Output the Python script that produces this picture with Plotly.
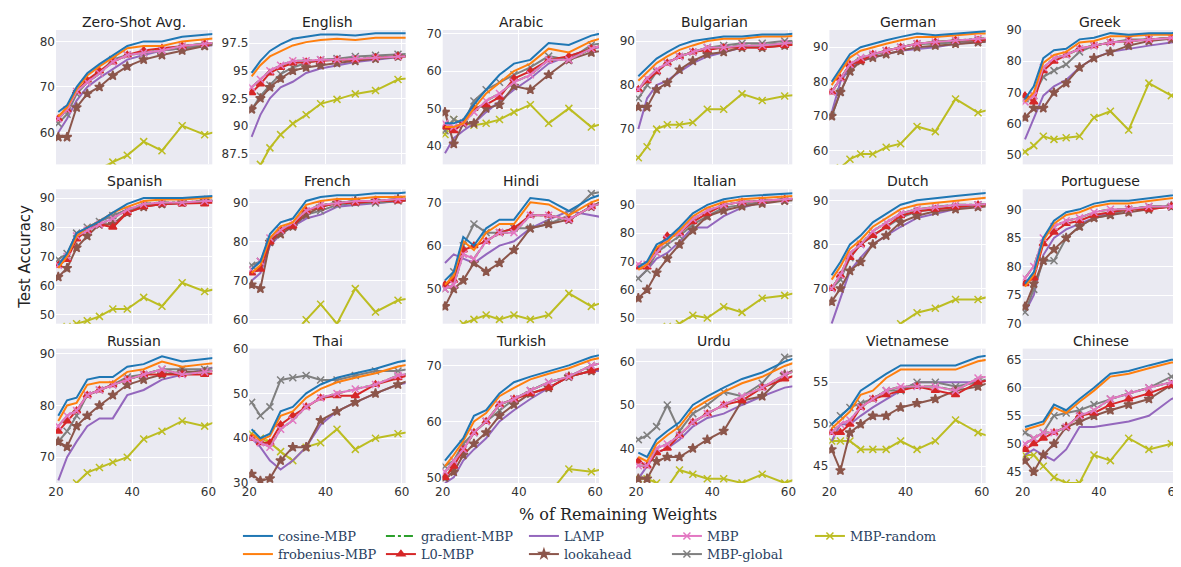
import plotly.graph_objects as go
from plotly.subplots import make_subplots

# % of remaining weights (pruned by 10% each step)
x = [20.6, 22.9, 25.4, 28.2, 31.4, 34.9, 38.7, 43.0, 47.8, 53.1, 59.0, 65.6]

zero_shot = {
    "cosine-MBP": [64.5, 66, 70, 73, 75, 77, 79, 80, 80, 81, 81.5, 82],
    "frobenius-MBP": [63.5, 65.5, 69.5, 72.5, 74.5, 76.5, 78.5, 79, 79, 80, 80.5, 81],
    "L0-MBP": [63, 65, 69, 71.5, 73.5, 75.5, 77, 78, 78.5, 79, 79.5, 80],
    "LAMP": [60, 63, 67, 70, 72, 74, 76, 77, 78, 78.5, 79, 79.5],
    "lookahead": [59, 59, 65.5, 68.5, 70, 72.5, 74.5, 76, 77, 78, 79, 80],
    "MBP": [63, 65, 69, 71, 73, 75.5, 77, 77.5, 78, 79, 79.5, 80],
    "MBP-global": [62, 64, 68.5, 71, 73, 76, 77, 77.5, 78, 78.5, 79, 80],
    "MBP-random": [45, 47, 49, 51, 52, 53.5, 55, 58, 56, 61.5, 59.5, 61],
}
english = {
    "cosine-MBP": [94.8, 95.9, 96.8, 97.4, 97.9, 98.1, 98.3, 98.3, 98.2, 98.4, 98.4, 98.4],
    "frobenius-MBP": [94.5, 95.5, 96.3, 96.8, 97.3, 97.6, 97.8, 97.9, 97.8, 98, 98, 98],
    "L0-MBP": [93, 93.8, 94.8, 95.3, 95.7, 95.8, 95.9, 96, 96, 96.2, 96.3, 96.3],
    "LAMP": [89, 91, 92.5, 93.5, 94, 94.8, 95.2, 95.5, 95.8, 96, 96.3, 96.5],
    "lookahead": [91.5, 92.5, 93.5, 94.3, 95, 95.3, 95.5, 95.7, 95.9, 96.1, 96.3, 96.5],
    "MBP": [93.5, 94.2, 95, 95.5, 95.9, 95.9, 96, 96, 96.1, 96.2, 96.3, 96.4],
    "MBP-global": [91.5, 92.7, 93.7, 94.7, 95.3, 95.7, 96, 96.1, 96.3, 96.4, 96.5, 96.6],
    "MBP-random": [85, 86.5, 88, 89.2, 90.2, 91, 92, 92.4, 92.9, 93.2, 94.2, 94.5],
}
arabic = {
    "cosine-MBP": [46, 46, 47, 51, 55, 59, 62, 63, 67.5, 67, 69.5, 71],
    "frobenius-MBP": [45, 45, 46, 50, 54, 57, 60, 62, 66, 65, 68, 70],
    "L0-MBP": [45, 44, 46, 50, 51, 53, 58, 60, 63, 64, 66, 68],
    "LAMP": [38, 42, 44, 46, 49, 52, 55, 58, 62, 64, 66, 67],
    "lookahead": [49, 40.5, 46, 46, 50, 51, 56, 55, 59, 63, 65, 66],
    "MBP": [46, 45, 46, 49, 52, 54, 57, 59, 63, 63, 66, 68],
    "MBP-global": [44, 47, 46, 52, 55, 57, 59, 61, 64, 63, 67, 68],
    "MBP-random": [43, 47, 46, 45.5, 46, 47, 49, 51, 46, 50, 45, 47],
}
bulgarian = {
    "cosine-MBP": [82, 84, 86, 87.5, 89, 90, 90.5, 91, 91, 91.5, 91.5, 92],
    "frobenius-MBP": [81, 83, 85, 86.5, 88, 89, 90, 90.5, 90.5, 91, 91, 91.5],
    "L0-MBP": [79, 81, 83, 85, 86.5, 87.5, 88, 88.5, 88.5, 88.5, 89, 89.5],
    "LAMP": [70, 77, 80, 81, 83, 85, 86.5, 87.5, 88.5, 89, 89.5, 90],
    "lookahead": [75, 75, 79, 80.5, 83.5, 85.5, 87, 87.5, 88.5, 88.5, 89, 89.5],
    "MBP": [79, 81.5, 83.5, 85, 86.5, 87.5, 88.5, 88.5, 89, 89, 89.5, 90],
    "MBP-global": [77, 80, 83, 85, 86.5, 87.5, 88.5, 89, 89.5, 89.5, 90, 90],
    "MBP-random": [63.5, 66, 70, 71, 71, 71.5, 74.5, 74.5, 78, 76.5, 77.5, 78],
}
german = {
    "cosine-MBP": [80, 84, 88, 90, 91, 92, 93, 94, 93.5, 94, 94.5, 95],
    "frobenius-MBP": [79, 83, 87, 89, 90, 91, 92, 93, 93, 93.5, 94, 94],
    "L0-MBP": [77, 81, 85, 86, 88, 89, 90, 91, 91.5, 92, 92, 92.5],
    "LAMP": [71, 80, 84, 86, 87, 88, 89, 89.5, 90, 91, 91.5, 92],
    "lookahead": [70, 77, 83, 86, 87, 88, 89, 90, 90.5, 91, 91.5, 92],
    "MBP": [77, 81, 85, 87, 88, 89, 90, 91, 91.5, 92, 92.5, 93],
    "MBP-global": [70, 77, 83, 86, 87.5, 89, 90, 91, 91, 91.5, 92, 92.5],
    "MBP-random": [52, 55, 57.5, 59, 59, 61, 62, 67, 65.5, 75, 71, 73],
}
greek = {
    "cosine-MBP": [68, 72, 81, 83.5, 84, 87, 87.5, 89, 88.5, 89, 89, 89.5],
    "frobenius-MBP": [67, 70, 79.5, 82, 83, 86, 86.5, 88, 88, 88.5, 88.5, 89],
    "L0-MBP": [69, 67, 77, 80, 82, 84, 85, 86, 86.5, 87, 87.5, 88],
    "LAMP": [55, 62, 69, 72, 74, 78, 81, 83, 84, 85, 86, 87],
    "lookahead": [62, 65, 65, 70, 73, 78, 81, 83, 85, 86.5, 87, 88],
    "MBP": [67, 69, 78, 81, 82, 84, 85, 86, 86.5, 87, 87.5, 88],
    "MBP-global": [68, 69, 75, 77, 79, 83, 85, 86, 87, 87, 87.5, 88],
    "MBP-random": [51, 53, 56, 55, 55.5, 56, 62, 64, 58, 73, 69, 72],
}
spanish = {
    "cosine-MBP": [67, 71, 78, 80, 82, 85, 88, 90, 90, 90, 90.5, 91],
    "frobenius-MBP": [66, 70, 77, 80, 82, 85, 87, 89, 89.5, 89.5, 90, 90.5],
    "L0-MBP": [67, 69, 76, 79, 81, 80, 85, 87, 88, 88, 88, 88.5],
    "LAMP": [68, 70, 77, 79, 82, 84, 86, 87.5, 88, 88.5, 89, 89.5],
    "lookahead": [63, 66, 73, 77, 81, 81, 85, 87, 88, 88.5, 89, 89.5],
    "MBP": [67, 70, 77, 79, 81, 83, 86, 88, 88.5, 88.5, 89, 89],
    "MBP-global": [69, 71, 78, 80, 82, 84, 86, 87.5, 88, 88.5, 89, 89.5],
    "MBP-random": [45, 46, 47, 48, 49.5, 52, 52, 56, 53, 61, 58, 60],
}
french = {
    "cosine-MBP": [73, 75, 82, 85, 86, 90.5, 91.5, 92, 92, 92.5, 92.5, 93],
    "frobenius-MBP": [72, 74, 81, 84, 85, 89.5, 90.5, 91, 91, 91.5, 91.5, 92],
    "L0-MBP": [72, 73, 80, 83, 84, 88, 89, 90, 90, 90.5, 90.5, 91],
    "LAMP": [70, 72, 79, 82, 84, 86, 87, 89, 89.5, 90, 90.5, 91],
    "lookahead": [69, 68, 80, 82, 84, 87, 89, 90, 90.5, 90.5, 91, 91.5],
    "MBP": [73, 75, 81, 83, 85, 88, 89.5, 90, 90.5, 90.5, 91, 91],
    "MBP-global": [74, 75, 80, 83, 84, 87, 88, 89.5, 90, 90, 90.5, 91],
    "MBP-random": [50, 51, 52, 54, 56, 60, 64, 59, 68, 62, 65, 66],
}
hindi = {
    "cosine-MBP": [52, 54, 62, 60, 64, 66, 66, 71, 70.5, 68, 71, 73],
    "frobenius-MBP": [51, 53, 61, 59, 63, 65, 65, 70, 69.5, 67, 70, 72],
    "L0-MBP": [51, 52, 59, 60, 61, 63, 64, 67, 67, 66, 69, 71],
    "LAMP": [56, 58, 57, 56, 58, 60, 61, 64, 66, 68, 67, 66],
    "lookahead": [46, 50, 52, 56, 54, 56, 59, 64, 65, 66, 69, 72],
    "MBP": [50, 51, 58, 57, 61, 63, 63, 67, 67, 66, 69, 71],
    "MBP-global": [50, 54, 60, 65, 63, 63, 64, 64, 65, 67, 72, 73],
    "MBP-random": [40, 41, 42, 43, 44, 43, 44, 43, 44, 49, 46, 48],
}
italian = {
    "cosine-MBP": [68, 70, 76, 78, 82, 87, 90, 92, 93, 93.5, 94, 94.5],
    "frobenius-MBP": [67, 69, 75, 77, 81, 86, 89, 91, 92, 92.5, 93, 93.5],
    "L0-MBP": [68, 68, 74, 79, 80, 84, 87, 90, 91, 91.5, 92, 92.5],
    "LAMP": [64, 67, 71, 73, 77, 82, 82, 86, 89, 91, 92, 92.5],
    "lookahead": [57, 60, 66, 71, 76, 81, 86, 88, 89.5, 90.5, 91.5, 92],
    "MBP": [69, 69, 73, 78, 80, 85, 88, 90, 91, 91.5, 92, 92.5],
    "MBP-global": [64, 67, 73, 76, 79, 83, 86, 89, 90, 91, 91.5, 92],
    "MBP-random": [44, 45, 46, 47, 48, 51, 50, 54, 52, 57, 58, 60],
}
dutch = {
    "cosine-MBP": [73, 76, 80, 82, 85, 87, 89, 90, 90.5, 91, 91.5, 92],
    "frobenius-MBP": [72, 75, 79, 81, 84, 86, 88, 89, 89.5, 90, 90.5, 91],
    "L0-MBP": [70, 73, 77, 80, 82, 84, 86.5, 87.5, 88, 88.5, 89, 89],
    "LAMP": [62, 68, 74, 77, 80, 82, 84, 86, 87, 88, 89, 89.5],
    "lookahead": [67, 70, 74, 76, 80, 82, 85, 86.5, 87.5, 88, 88.5, 89],
    "MBP": [70, 73, 78, 80, 83, 85, 87, 88, 88.5, 89, 89, 89.5],
    "MBP-global": [70, 72, 77, 80, 82, 84, 86, 87.5, 88, 88.5, 89, 89.5],
    "MBP-random": [55, 56, 57, 58, 59, 60, 62, 64.5, 65.5, 67.5, 67.5, 69],
}
portuguese = {
    "cosine-MBP": [77, 79, 85, 88, 89.5, 90, 91, 91.5, 91.5, 92, 92.5, 93],
    "frobenius-MBP": [76.5, 78.5, 84.5, 87.5, 89, 89.5, 90.5, 91, 91, 91.5, 92, 92.5],
    "L0-MBP": [77, 78, 84, 86, 87.5, 88, 89, 89.5, 90, 90, 90.5, 90.5],
    "LAMP": [72, 75, 82, 85, 86.5, 87.5, 88.5, 89.5, 90, 90.5, 90.5, 91],
    "lookahead": [73, 77, 81, 83, 85, 87, 88.5, 89, 89.5, 90, 90.5, 91],
    "MBP": [78, 80, 85, 87, 88, 88.5, 89.5, 90, 90, 90.5, 90.5, 91],
    "MBP-global": [72, 76, 81, 81, 85, 87, 88.5, 89, 90, 90.5, 90.5, 91],
    "MBP-random": [65, 66, 67, 67, 68, 68, 68, 68, 68, 68, 68, 68],
}
russian = {
    "cosine-MBP": [78, 81, 81.5, 85, 85.5, 85.5, 87.5, 88, 89.5, 88.5, 89, 89.5],
    "frobenius-MBP": [77, 80, 80.5, 84, 84.5, 84.5, 86.5, 87, 88.5, 87.5, 88, 88.5],
    "L0-MBP": [75, 77, 79, 82, 83, 84, 85, 86, 86, 86, 86, 86.5],
    "LAMP": [65.5, 70, 73, 76, 77.5, 77.5, 82, 83, 85, 86, 87, 88],
    "lookahead": [73, 72, 76, 78, 80, 82, 84, 85, 86, 86.5, 86.5, 87],
    "MBP": [76, 78, 79, 82, 83, 84, 85, 86, 87, 86, 86.5, 87],
    "MBP-global": [73, 75, 78, 82, 83, 84, 85.5, 86, 87, 87, 87, 87.5],
    "MBP-random": [61, 63, 65, 67, 68, 69, 70, 73.5, 75, 77, 76, 78],
}
thai = {
    "cosine-MBP": [42, 40, 41, 46, 47, 50, 52, 53.5, 54.5, 55.5, 57, 58],
    "frobenius-MBP": [41, 39.5, 40.5, 45, 46, 49, 51, 52.5, 53.5, 54.5, 56, 57],
    "L0-MBP": [40, 39, 39, 43, 45, 47, 49, 49.5, 49.5, 52, 53.5, 55],
    "LAMP": [40, 38, 35, 33, 35, 38, 43, 46, 48, 50, 52, 53],
    "lookahead": [32, 30.5, 31, 35, 38, 38, 44, 46, 48, 50, 52, 54],
    "MBP": [40, 39, 38, 42, 44, 47, 49, 50, 51, 52, 54, 55],
    "MBP-global": [48, 45, 47, 53, 53.5, 54, 53, 53, 54, 55, 55, 56],
    "MBP-random": [41, 40, 39, 37, 35, 38, 39, 42, 37.5, 40, 41, 42],
}
turkish = {
    "cosine-MBP": [53, 55, 57, 61, 62, 65, 67, 68, 69, 70, 71.5, 72.5],
    "frobenius-MBP": [52, 54, 56.5, 60, 61.5, 64.5, 66, 67.5, 68.5, 69.5, 71, 72],
    "L0-MBP": [50, 52, 55, 58, 60, 63, 64, 65, 66, 68, 69, 70.5],
    "LAMP": [49, 50, 53, 55, 57, 60, 62, 64, 66, 68, 69, 69],
    "lookahead": [50, 51, 54, 56, 58, 61, 63, 65, 66, 68, 69, 70],
    "MBP": [51, 53, 55, 58, 60, 63, 64, 65.5, 67, 68, 70, 71],
    "MBP-global": [52, 53, 56, 58, 60, 62, 64, 65.5, 67, 68, 70, 71],
    "MBP-random": [43, 44, 44, 45, 45, 45, 46, 46, 47, 51.5, 51, 52],
}
urdu = {
    "cosine-MBP": [39, 38, 42, 44, 46, 50, 52, 54, 56, 57.5, 60, 62],
    "frobenius-MBP": [38, 37, 41, 43, 45, 49, 51, 53, 55, 56.5, 59, 61],
    "L0-MBP": [37, 36, 39, 40, 43, 46, 48, 50, 51, 54, 56, 58],
    "LAMP": [33, 36, 39, 40, 42, 45, 47, 48, 50, 52, 54, 55],
    "lookahead": [33, 33, 37, 38, 38, 40, 42, 44, 51, 52, 57, 60],
    "MBP": [36, 36, 40, 41, 43, 46, 48, 50, 52, 54, 57, 59],
    "MBP-global": [42, 43, 45, 50, 44, 48, 50, 53, 52, 55, 61, 62],
    "MBP-random": [33, 33, 32, 31, 35, 34, 33, 33, 32, 34, 32, 34],
}
vietnamese = {
    "cosine-MBP": [50, 51, 52, 54, 55, 56, 57, 57, 57, 57, 58, 58.5],
    "frobenius-MBP": [49.5, 50.5, 51.5, 53.5, 54, 55.5, 56.5, 56.5, 56.5, 56.5, 57.5, 58],
    "L0-MBP": [49, 49, 50, 52, 53, 53.5, 54, 54.5, 54, 53.5, 55, 55.5],
    "LAMP": [48, 50, 50, 51, 52, 53, 54, 55, 55, 55, 55, 55.5],
    "lookahead": [47, 44.5, 49, 50, 51, 51, 52, 52.5, 53, 54, 54.5, 55.5],
    "MBP": [49, 50, 50.5, 52, 53, 54, 54.5, 54.5, 54.5, 54, 55.5, 56],
    "MBP-global": [50, 51, 52, 52.5, 53, 54, 54, 55, 55, 54.5, 55, 56],
    "MBP-random": [48, 48, 48, 47, 47, 47, 48, 47, 48, 50.5, 49, 48],
}
chinese = {
    "cosine-MBP": [53, 53.5, 54, 57, 56, 58, 60, 62.5, 63, 64, 65, 65.5],
    "frobenius-MBP": [52.5, 53, 53.5, 56.5, 55.5, 57.5, 59.5, 62, 62.5, 63.5, 64.5, 65],
    "L0-MBP": [49, 50, 51, 52, 53, 55, 55.5, 57, 58, 59, 60.5, 61.5],
    "LAMP": [48, 49, 48, 47, 49, 53, 53, 53.5, 54, 55, 58, 60],
    "lookahead": [47, 45, 48, 50, 53, 54, 55, 56, 57, 58, 60.5, 62],
    "MBP": [50, 51, 52, 52, 53, 55, 56, 58, 59, 60, 61, 62],
    "MBP-global": [52, 51, 52, 55, 55.5, 56, 57, 58, 59, 60, 62, 63],
    "MBP-random": [48, 48, 46, 44, 43, 43, 48, 47, 51, 49, 50, 51],
}

panels = [
    ("Zero-Shot Avg.", zero_shot, [53, 82.5], [60, 70, 80]),
    ("English", english, [86.5, 98.7], [87.5, 90.0, 92.5, 95.0, 97.5]),
    ("Arabic", arabic, [35, 71], [40, 50, 60, 70]),
    ("Bulgarian", bulgarian, [62, 92.5], [70, 80, 90]),
    ("German", german, [56, 95], [60, 70, 80, 90]),
    ("Greek", greek, [47, 90], [50, 60, 70, 80, 90]),
    ("Spanish", spanish, [47, 93], [50, 60, 70, 80, 90]),
    ("French", french, [59, 93.5], [60, 70, 80, 90]),
    ("Hindi", hindi, [42, 73], [50, 60, 70]),
    ("Italian", italian, [48, 95.5], [50, 60, 70, 80, 90]),
    ("Dutch", dutch, [62, 92.5], [70, 80, 90]),
    ("Portuguese", portuguese, [70, 93.5], [70, 75, 80, 85, 90]),
    ("Russian", russian, [65, 91], [70, 80, 90]),
    ("Thai", thai, [30, 60], [30, 40, 50, 60]),
    ("Turkish", turkish, [49, 73], [50, 60, 70]),
    ("Urdu", urdu, [32, 63], [40, 50, 60]),
    ("Vietnamese", vietnamese, [43, 59], [45, 50, 55]),
    ("Chinese", chinese, [43, 67], [45, 50, 55, 60, 65]),
]

# name, color, dash, marker symbol, legend (row)
styles = [
    ("cosine-MBP", "#1f77b4", "solid", None, "legend"),
    ("frobenius-MBP", "#ff7f0e", "solid", None, "legend2"),
    ("gradient-MBP", "#2ca02c", "dashdot", None, "legend"),
    ("L0-MBP", "#d62728", "solid", "triangle-up", "legend2"),
    ("LAMP", "#9467bd", "solid", None, "legend"),
    ("lookahead", "#8c564b", "solid", "star", "legend2"),
    ("MBP", "#e377c2", "solid", "x-thin", "legend"),
    ("MBP-global", "#7f7f7f", "solid", "x-thin", "legend2"),
    ("MBP-random", "#bcbd22", "solid", "x-thin", "legend"),
]
rank = {s[0]: k for k, s in enumerate(styles)}
draw_order = ["MBP-random", "LAMP", "MBP-global", "lookahead", "L0-MBP", "gradient-MBP", "MBP",
              "frobenius-MBP", "cosine-MBP"]

fig = make_subplots(rows=3, cols=6, subplot_titles=[p[0] for p in panels],
                    horizontal_spacing=0.033, vertical_spacing=0.055, shared_xaxes=True)

style_map = {s[0]: s for s in styles}
for i, (title, data, yr, yt) in enumerate(panels):
    r, c = i // 6 + 1, i % 6 + 1
    for name in draw_order:
        _, color, dash, sym, leg = style_map[name]
        ys = data["MBP"] if name == "gradient-MBP" else data[name]
        mode = "lines+markers" if sym else "lines"
        marker = dict(color=color, symbol=sym or "circle", size=7,
                      line=dict(color=color, width=1.5))
        fig.add_trace(go.Scatter(x=x, y=ys, name=name, mode=mode, line=dict(color=color, width=2, dash=dash),
                                 marker=marker, showlegend=(i == 0), legend=leg, legendrank=rank[name]),
                      row=r, col=c)
    fig.update_yaxes(range=yr, tickvals=yt, row=r, col=c)

fig.update_xaxes(range=[20, 61], tickvals=[20, 40, 60], gridcolor="white", zeroline=False,
                 showline=False, tickfont=dict(size=12, color="#333"))
fig.update_yaxes(gridcolor="white", zeroline=False, showline=False, tickfont=dict(size=12, color="#333"))
for ann in fig.layout.annotations:
    ann.font = dict(family="DejaVu Sans", size=14, color="#222")
    ann.yshift = -2

fig.add_annotation(text="% of Remaining Weights", x=0.5, y=-0.07, xref="paper", yref="paper",
                   yanchor="middle", showarrow=False,
                   font=dict(family="DejaVu Serif", size=16, color="#222"))
fig.add_annotation(text="Test Accuracy", x=-0.038, y=0.5, xref="paper", yref="paper", textangle=-90,
                   showarrow=False, font=dict(family="DejaVu Sans", size=15, color="#222"))

leg_common = dict(orientation="h", xanchor="left", yanchor="middle", entrywidth=98,
                  font=dict(family="DejaVu Serif", size=13), tracegroupgap=0, itemwidth=30,
                  bgcolor="rgba(0,0,0,0)")
fig.update_layout(
    width=1181, height=567, paper_bgcolor="white", plot_bgcolor="#EAEAF2",
    margin=dict(l=48, r=6, t=22, b=84),
    font=dict(family="DejaVu Sans", size=12),
    legend=dict(x=0.162, y=-0.117, **leg_common),
    legend2=dict(x=0.162, y=-0.157, **leg_common),
)
fig.write_html("out.html")
